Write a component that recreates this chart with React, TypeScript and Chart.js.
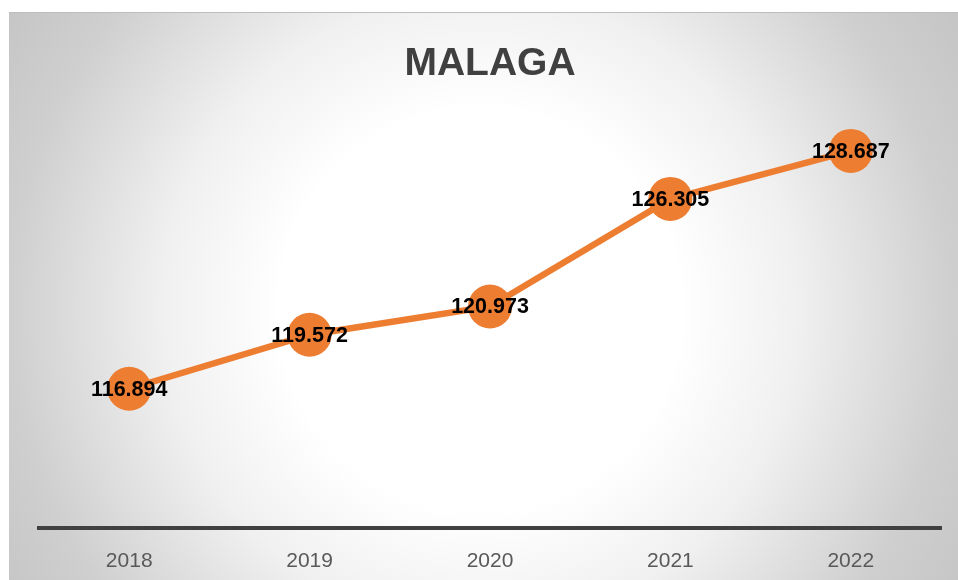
import React, { useEffect, useRef } from "react";
import { Chart, registerables } from "chart.js";

Chart.register(...registerables);

const categories = ["2018", "2019", "2020", "2021", "2022"];
const values = [116.894, 119.572, 120.973, 126.305, 128.687];
const valueLabels = ["116.894", "119.572", "120.973", "126.305", "128.687"];
const yMin = 110;
const yMax = 130;

const labelPlugin = {
  id: "pointLabels",
  afterDatasetsDraw(chart: any) {
    const ctx = chart.ctx;
    const meta = chart.getDatasetMeta(0);
    ctx.save();
    ctx.font = "bold 21.5px 'Liberation Sans', Arial, sans-serif";
    ctx.fillStyle = "#000000";
    ctx.textAlign = "center";
    ctx.textBaseline = "middle";
    meta.data.forEach((pt: any, i: number) => {
      ctx.fillText(valueLabels[i], pt.x, pt.y + 1);
    });
    ctx.restore();
  },
};

export default function App() {
  const ref = useRef<HTMLCanvasElement>(null);
  useEffect(() => {
    if (!ref.current) return;
    const chart = new Chart(ref.current, {
      type: "line",
      data: {
        labels: categories,
        datasets: [
          {
            data: values,
            borderColor: "#ED7D31",
            backgroundColor: "#ED7D31",
            borderWidth: 6.5,
            pointRadius: 22,
            pointHoverRadius: 22,
            pointBorderWidth: 0,
            pointBackgroundColor: "#ED7D31",
            tension: 0,
            clip: false as any,
          },
        ],
      },
      options: {
        animation: false,
        responsive: false,
        maintainAspectRatio: false,
        events: [],
        layout: { autoPadding: false, padding: { left: 30, right: 17, top: 0, bottom: 0 } },
        plugins: {
          legend: { display: false },
          tooltip: { enabled: false },
          title: {
            display: true,
            text: "MALAGA",
            color: "#404040",
            font: { family: "'Liberation Sans', Arial, sans-serif", size: 39, weight: "bold" },
            padding: { top: 28.6, bottom: 37 },
          },
        },
        scales: {
          x: {
            offset: true,
            grid: { display: false, drawTicks: false },
            border: { display: true, color: "#404040", width: 4 },
            ticks: {
              color: "#595959",
              font: { family: "'Liberation Sans', Arial, sans-serif", size: 21 },
              padding: 21,
            },
          },
          y: {
            display: false,
            min: yMin,
            max: yMax,
          },
        },
      },
      plugins: [labelPlugin],
    });
    return () => chart.destroy();
  }, []);

  return (
    <div style={{ position: "absolute", left: 0, top: 0, width: 958, height: 580, background: "#ffffff", overflow: "hidden" }}>
      <div
        style={{
          position: "absolute",
          left: 9,
          top: 12,
          width: 949,
          height: 568,
          overflow: "hidden",
          background:
            "radial-gradient(circle 570px at 471px 298px, #ffffff 0px, #ffffff 200px, #f0f0f0 318px, #cfcfcf 470px, #c4c4c4 570px)",
        }}
      >
        <canvas ref={ref} width={949} height={583} style={{ display: "block", width: 949, height: 583 }} />
      </div>
      <div style={{ position: "absolute", left: 9, top: 12, width: 949, height: 1, background: "#bdbdbd" }} />
    </div>
  );
}
